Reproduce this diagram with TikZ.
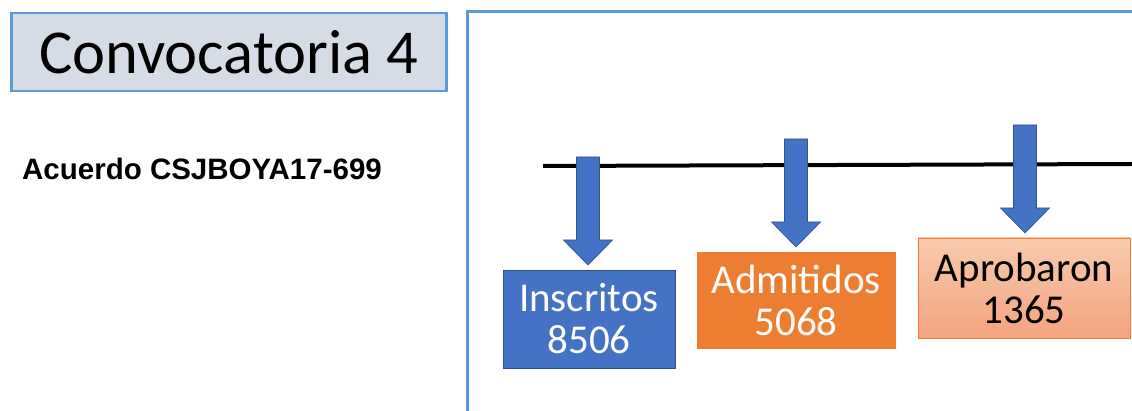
\documentclass[tikz,border=0pt]{standalone}
\usepackage{fontspec}
\setmainfont{Carlito}
\newfontfamily\arialfont{Liberation Sans}
\usetikzlibrary{positioning}

\definecolor{titlefill}{HTML}{D6DCE5}
\definecolor{panelblue}{HTML}{5B9BD5}
\definecolor{boxblue}{HTML}{4472C4}
\definecolor{boxblueborder}{HTML}{2F528F}
\definecolor{boxorange}{HTML}{ED7D31}
\definecolor{peachtop}{HTML}{F8CBAD}
\definecolor{peachbottom}{HTML}{F4A37F}

\tikzset{
    countbox/.style={rectangle, align=center, inner sep=0, line width=0.8pt,
        font=\fontsize{41}{42}\selectfont},
    downarrow/.style={fill=boxblue, draw=boxblueborder, line width=0.6pt}
}

\begin{document}
\begin{tikzpicture}[x=1pt, y=-1pt]
    \useasboundingbox (0,0) rectangle (1132,411);

    % Title
    \node (Title) [draw=panelblue, line width=2.5pt, fill=titlefill, anchor=north west,
        minimum width=435, minimum height=78, inner sep=0,
        font=\fontsize{62.5}{62.5}\selectfont] at (10,12) {Convocatoria 4};
    \node (Acuerdo) [anchor=base west, inner sep=0,
        font=\arialfont\bfseries\fontsize{29.5}{35}\selectfont] at (22,180) {Acuerdo CSJBOYA17-699};

    % Panel
    \draw[panelblue, line width=3pt] (467,411) -- (467,12) -- (1132,12);

    % Timeline
    \coordinate (LineStart) at (543,166);
    \coordinate (LineEnd) at (1132,164);
    \draw[line width=4pt] (LineStart) -- (LineEnd);

    % Boxes
    \node (Inscritos) [countbox, fill=boxblue, draw=boxblueborder, text=white,
        minimum width=172, minimum height=98] at (589,319) {Inscritos\\8506};
    \node (Admitidos) [countbox, fill=boxorange, draw=boxorange, text=white,
        minimum width=198, minimum height=96] at (796,300) {Admitidos\\5068};
    \node (Aprobaron) [countbox, top color=peachtop, bottom color=peachbottom, draw=boxorange,
        minimum width=212, minimum height=100] at (1024,288) {Aprobaron\\1365};

    % Arrows
    \foreach \x/\top/\tip in {588/157/265, 796/139/247, 1025/125/233}
        \draw[downarrow] (\x-11.5,\top) -- (\x+11.5,\top) -- (\x+11.5,\tip-25)
            -- (\x+24.5,\tip-25) -- (\x,\tip) -- (\x-24.5,\tip-25)
            -- (\x-11.5,\tip-25) -- cycle;

\end{tikzpicture}
\end{document}
